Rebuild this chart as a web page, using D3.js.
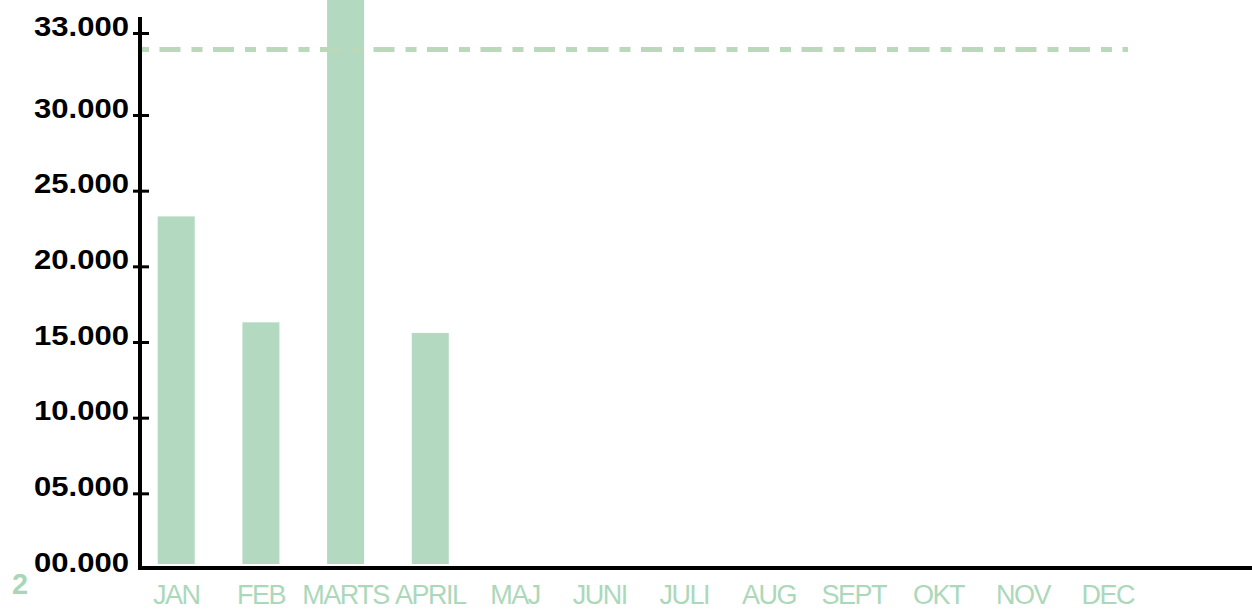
<!DOCTYPE html>
<html>
<head>
<meta charset="utf-8">
<script src="https://cdn.jsdelivr.net/npm/d3@7"></script>
<style>
  html, body { margin: 0; padding: 0; background: #ffffff; }
  svg { display: block; }
</style>
</head>
<body>
<div id="chart"></div>
<script>
// Data
const months = ["JAN", "FEB", "MARTS", "APRIL", "MAJ", "JUNI", "JULI", "AUG", "SEPT", "OKT", "NOV", "DEC"];
const barMonths = ["JAN", "FEB", "MARTS", "APRIL"];
const barValues = [23300, 16300, 34500, 15600];
const targetValue = 32400;
const yTickValues = [0, 5000, 10000, 15000, 20000, 25000, 30000, 33000];
const yTickLabels = ["00.000", "05.000", "10.000", "15.000", "20.000", "25.000", "30.000", "33.000"];
const cornerLabel = "2";

const W = 1252, H = 609;
const green = "#b4d9c1";
const dashGreen = "#bad8ba";

const svg = d3.select("#chart").append("svg")
    .attr("width", W)
    .attr("height", H);

// Scales (the top tick sits above the regular spacing, so piecewise)
const x = d3.scaleBand()
    .domain(months)
    .range([134, 1150])
    .paddingInner(0.563)
    .paddingOuter(0.28);

const y = d3.scaleLinear()
    .domain([0, 30000, 33000])
    .range([569, 115, 33]);

const axisX = 140;

// Bars
const bars = barMonths.map((m, i) => ({ month: m, value: barValues[i] }));
svg.selectAll("rect.bar")
    .data(bars)
    .enter()
    .append("rect")
    .attr("class", "bar")
    .attr("x", d => x(d.month))
    .attr("y", d => Math.max(0, y(d.value)))
    .attr("width", x.bandwidth())
    .attr("height", d => y(0) - 5 - Math.max(0, y(d.value)))
    .attr("fill", green);

// Target dashed line
svg.append("line")
    .attr("x1", 138)
    .attr("x2", 1128)
    .attr("y1", y(targetValue))
    .attr("y2", y(targetValue))
    .attr("stroke", dashGreen)
    .attr("stroke-width", 5)
    .attr("stroke-dasharray", "11,10.5,21,11");

// Y axis
const yAxis = svg.append("g")
    .attr("transform", `translate(${axisX},0)`)
    .call(d3.axisLeft(y)
        .tickValues(yTickValues)
        .tickFormat((d, i) => yTickLabels[i])
        .tickSize(0));

yAxis.select(".domain").remove();
yAxis.selectAll(".tick line")
    .attr("x1", -7)
    .attr("x2", 9)
    .attr("stroke", "#000")
    .attr("stroke-width", 3)
    .attr("display", d => d === 0 ? "none" : null);
yAxis.selectAll(".tick text")
    .attr("x", -11)
    .attr("y", 2)
    .attr("dy", 0)
    .attr("fill", "#000")
    .attr("font-family", "'Liberation Sans', Arial, sans-serif")
    .attr("font-weight", "bold")
    .attr("font-size", "27px")
    .attr("textLength", 95)
    .attr("lengthAdjust", "spacingAndGlyphs");

// Axis lines
svg.append("line")
    .attr("x1", axisX).attr("x2", axisX)
    .attr("y1", 17).attr("y2", 570)
    .attr("stroke", "#000")
    .attr("stroke-width", 4);

svg.append("line")
    .attr("x1", 138).attr("x2", W)
    .attr("y1", 568).attr("y2", 568)
    .attr("stroke", "#000")
    .attr("stroke-width", 4);

// X axis labels
const xAxis = svg.append("g")
    .attr("transform", "translate(0,568)")
    .call(d3.axisBottom(x).tickSize(0));

xAxis.select(".domain").remove();
xAxis.selectAll(".tick text")
    .attr("y", 36)
    .attr("dy", 0)
    .attr("fill", "#acd8ba")
    .attr("font-family", "'Liberation Sans', Arial, sans-serif")
    .attr("font-size", "27px")
    .attr("letter-spacing", "-1.5px");

// Corner label
svg.append("text")
    .attr("x", 12)
    .attr("y", 594)
    .attr("fill", "#a9d6b8")
    .attr("font-family", "'Liberation Sans', Arial, sans-serif")
    .attr("font-weight", "bold")
    .attr("font-size", "29px")
    .text(cornerLabel);
</script>
</body>
</html>
